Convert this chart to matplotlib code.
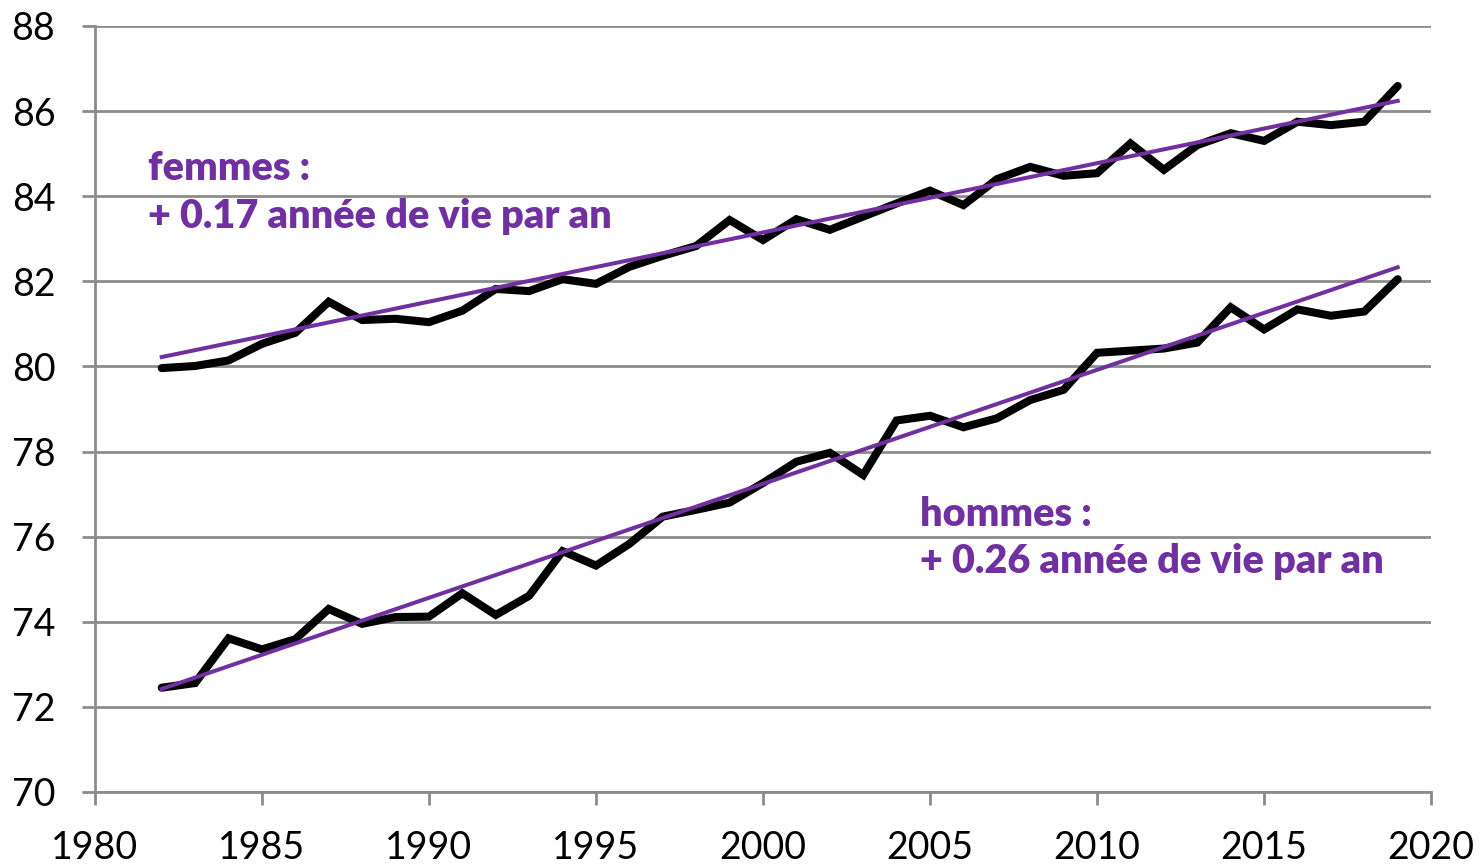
import numpy as np
import matplotlib.pyplot as plt

# Espérance de vie à la naissance, 1982-2019
years = np.arange(1982, 2020)
femmes = [79.96, 80.01, 80.14, 80.53, 80.79, 81.52, 81.09, 81.12, 81.04, 81.31,
          81.82, 81.77, 82.05, 81.94, 82.34, 82.60, 82.83, 83.44, 82.97, 83.46,
          83.21, 83.52, 83.83, 84.13, 83.79, 84.40, 84.69, 84.48, 84.54, 85.24,
          84.62, 85.20, 85.48, 85.30, 85.75, 85.67, 85.75, 86.59]
hommes = [72.45, 72.56, 73.61, 73.35, 73.59, 74.30, 73.95, 74.11, 74.12, 74.67,
          74.16, 74.61, 75.66, 75.32, 75.83, 76.47, 76.63, 76.80, 77.26, 77.76,
          77.97, 77.45, 78.73, 78.84, 78.57, 78.78, 79.21, 79.45, 80.32, 80.37,
          80.42, 80.56, 81.39, 80.87, 81.34, 81.19, 81.29, 82.05]

# tendances linéaires (valeurs lues en début et fin de période)
trend_years = [1982, 2019]
trend_femmes = [80.22, 86.24]
trend_hommes = [72.42, 82.33]

labels = {
    "femmes": ("femmes :", "+ 0.17 année de vie par an"),
    "hommes": ("hommes :", "+ 0.26 année de vie par an"),
}

purple = "#7030A0"
grey = "#8c8c8c"
plt.rcParams["font.family"] = ["Lato", "DejaVu Sans"]

fig = plt.figure(figsize=(14.83, 8.66), dpi=100)
ax = fig.add_axes([0.064, 0.0855, 0.901, 0.8845])

for serie, trend in ((femmes, trend_femmes), (hommes, trend_hommes)):
    ax.plot(years, serie, color="black", lw=5.8, solid_capstyle="round",
            solid_joinstyle="miter", zorder=3)
    ax.plot(trend_years, trend, color=purple, lw=2.9, zorder=4)

# annotations
txt = dict(color=purple, fontsize=28.5, fontweight="heavy", va="baseline")
ax.text(1981.59, 84.38, labels["femmes"][0], **txt)
ax.text(1981.59, 83.25, labels["femmes"][1], **txt)
ax.text(2004.70, 76.24, labels["hommes"][0], **txt)
ax.text(2004.70, 75.15, labels["hommes"][1], **txt)

ax.set_xlim(1980, 2020)
ax.set_ylim(70, 88)
ax.set_xticks(np.arange(1980, 2021, 5))
ax.set_yticks(np.arange(70, 89, 2))
ax.grid(axis="y", color=grey, lw=2)
ax.set_axisbelow(True)

for side in ("top", "right"):
    ax.spines[side].set_visible(False)
for side in ("left", "bottom"):
    ax.spines[side].set_color(grey)
    ax.spines[side].set_linewidth(2)

ax.tick_params(axis="both", colors=grey, labelcolor="black", width=2,
               length=9.5, labelsize=27)
ax.tick_params(axis="y", pad=19)
ax.tick_params(axis="x", pad=18)

fig.savefig("out.png", dpi=100)
